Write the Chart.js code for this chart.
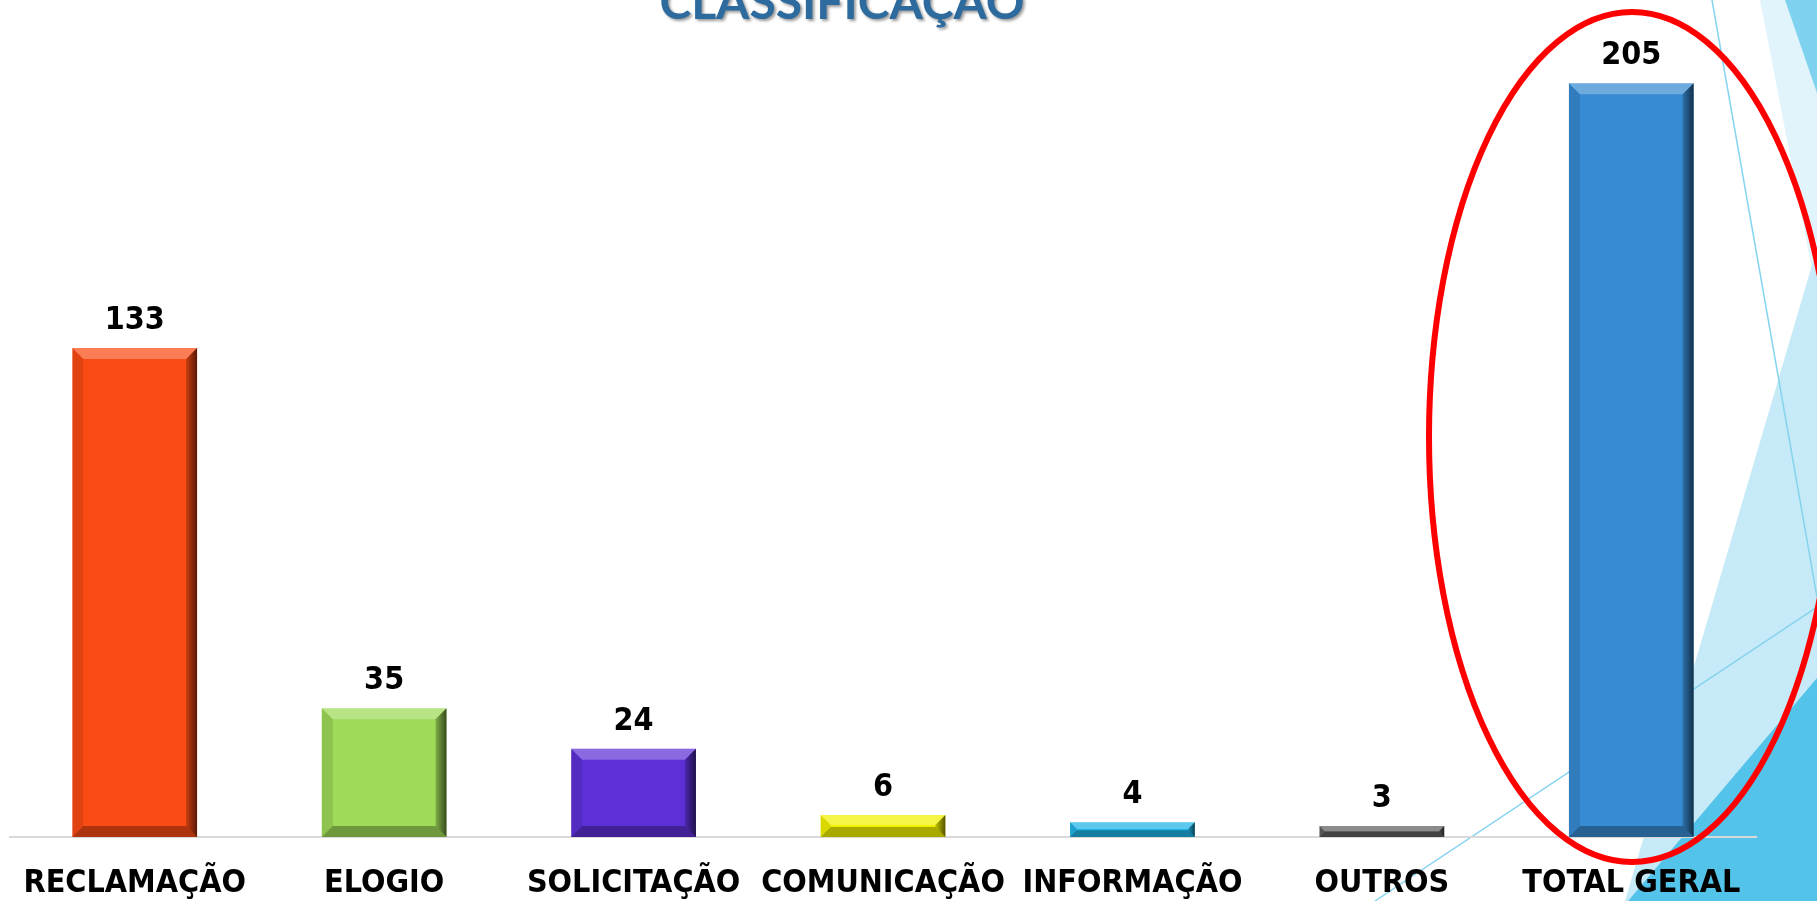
<!DOCTYPE html>
<html>
<head>
<meta charset="utf-8">
<title>Classificação</title>
<script src="https://cdn.jsdelivr.net/npm/chart.js@4.4.1/dist/chart.umd.min.js"></script>
<style>
  html, body { margin: 0; padding: 0; background: #fff; overflow: hidden; }
  #wrap { width: 1817px; height: 901px; position: relative; }
</style>
</head>
<body>
<div id="wrap">
  <canvas id="classChart" width="1817" height="901"></canvas>
</div>
<script>
// data
const categories = ['RECLAMAÇÃO', 'ELOGIO', 'SOLICITAÇÃO', 'COMUNICAÇÃO', 'INFORMAÇÃO', 'OUTROS', 'TOTAL GERAL'];
const totals = [133, 35, 24, 6, 4, 3, 205];
const barColors = ['#fa4b14', '#9fda58', '#5d30d6', '#f2f200', '#1fb3e6', '#5f5f5f', '#378bd2'];
const chartTitle = 'CLASSIFICAÇÃO';

const labelFont = '"DejaVu Sans Condensed", "DejaVu Sans", sans-serif';

// slide background: facet shapes on the right
const backgroundPlugin = {
  id: 'slideBg',
  beforeDraw(chart) {
    const { ctx, width, height } = chart;
    ctx.save();
    ctx.fillStyle = '#ffffff';
    ctx.fillRect(0, 0, width, height);

    ctx.fillStyle = '#e1f4fb';
    ctx.beginPath();
    ctx.moveTo(1760, 0); ctx.lineTo(width, 0); ctx.lineTo(width, 295);
    ctx.closePath(); ctx.fill();

    ctx.fillStyle = '#7fd2ef';
    ctx.beginPath();
    ctx.moveTo(1785, 0); ctx.lineTo(width, 0); ctx.lineTo(width, 93);
    ctx.closePath(); ctx.fill();

    ctx.fillStyle = '#c6eaf7';
    ctx.beginPath();
    ctx.moveTo(width, 248); ctx.lineTo(width, height); ctx.lineTo(1625, height);
    ctx.closePath(); ctx.fill();

    ctx.fillStyle = '#53c3ea';
    ctx.beginPath();
    ctx.moveTo(width, 678); ctx.lineTo(width, height); ctx.lineTo(1628, height);
    ctx.closePath(); ctx.fill();

    ctx.strokeStyle = '#84d3ef';
    ctx.lineWidth = 1.5;
    ctx.beginPath();
    ctx.moveTo(1712, 0); ctx.lineTo(width, 597);
    ctx.moveTo(1375, height); ctx.lineTo(width, 607);
    ctx.stroke();
    ctx.restore();
  }
};

// bevel look on the bars
const bevelPlugin = {
  id: 'bevel',
  afterDatasetsDraw(chart) {
    const { ctx } = chart;
    const meta = chart.getDatasetMeta(0);
    ctx.save();
    meta.data.forEach(bar => {
      const l = bar.x - bar.width / 2, r = bar.x + bar.width / 2;
      const t = bar.y, b = bar.base;
      const h = b - t;
      const s = Math.min(11, h / 2.2);

      ctx.fillStyle = 'rgba(255,255,255,0.28)';
      ctx.beginPath();
      ctx.moveTo(l, t); ctx.lineTo(r, t); ctx.lineTo(r - s, t + s); ctx.lineTo(l + s, t + s);
      ctx.closePath(); ctx.fill();

      const g = ctx.createLinearGradient(r - s, 0, r, 0);
      g.addColorStop(0, 'rgba(0,0,0,0.2)');
      g.addColorStop(1, 'rgba(0,0,0,0.65)');
      ctx.fillStyle = g;
      ctx.beginPath();
      ctx.moveTo(r, t); ctx.lineTo(r, b); ctx.lineTo(r - s, b - s); ctx.lineTo(r - s, t + s);
      ctx.closePath(); ctx.fill();

      ctx.fillStyle = 'rgba(0,0,0,0.3)';
      ctx.beginPath();
      ctx.moveTo(l, b); ctx.lineTo(r, b); ctx.lineTo(r - s, b - s); ctx.lineTo(l + s, b - s);
      ctx.closePath(); ctx.fill();

      ctx.fillStyle = 'rgba(0,0,0,0.1)';
      ctx.beginPath();
      ctx.moveTo(l, t); ctx.lineTo(l + s, t + s); ctx.lineTo(l + s, b - s); ctx.lineTo(l, b);
      ctx.closePath(); ctx.fill();
    });
    ctx.restore();
  }
};

// numbers above bars
const valueLabelPlugin = {
  id: 'valueLabels',
  afterDatasetsDraw(chart) {
    const { ctx } = chart;
    const meta = chart.getDatasetMeta(0);
    ctx.save();
    ctx.font = 'bold 32px ' + labelFont;
    ctx.fillStyle = '#000';
    ctx.textAlign = 'center';
    ctx.textBaseline = 'alphabetic';
    meta.data.forEach((bar, i) => {
      ctx.fillText(totals[i], bar.x, bar.y - 19);
    });
    ctx.restore();
  }
};

// title is cut off at the top of the slide, plus the red highlight ring
const overlayPlugin = {
  id: 'overlay',
  afterDraw(chart) {
    const { ctx } = chart;
    ctx.save();
    ctx.font = 'bold 48px Lato, "Open Sans", sans-serif';
    ctx.textAlign = 'center';
    ctx.textBaseline = 'alphabetic';
    ctx.shadowColor = 'rgba(0,0,0,0.4)';
    ctx.shadowOffsetX = 2;
    ctx.shadowOffsetY = 2;
    ctx.shadowBlur = 3;
    ctx.fillStyle = '#2d6a9e';
    ctx.fillText(chartTitle, 842, 19);
    ctx.restore();

    ctx.save();
    ctx.strokeStyle = '#ff0000';
    ctx.lineWidth = 6;
    ctx.beginPath();
    ctx.ellipse(1632, 437, 203, 425, 0, 0, Math.PI * 2);
    ctx.stroke();
    ctx.restore();
  }
};

new Chart(document.getElementById('classChart'), {
  type: 'bar',
  data: {
    labels: categories,
    datasets: [{
      data: totals,
      backgroundColor: barColors,
      borderWidth: 0,
      barPercentage: 0.5,
      categoryPercentage: 1.0
    }]
  },
  options: {
    responsive: false,
    animation: false,
    layout: { padding: { top: 28, left: 10, right: 61, bottom: 0 } },
    plugins: {
      legend: { display: false },
      tooltip: { enabled: false },
      title: { display: false }
    },
    scales: {
      x: {
        grid: { display: false, drawTicks: false },
        border: { display: true, color: '#d9d9d9', width: 2 },
        ticks: {
          color: '#000',
          padding: 27,
          maxRotation: 0,
          autoSkip: false,
          font: { family: labelFont, size: 32, weight: 'bold' }
        },
        afterFit(scale) {
          scale.height = 64;
          scale.paddingLeft = 0;
          scale.paddingRight = 0;
        }
      },
      y: {
        display: false,
        min: 0,
        max: 220
      }
    }
  },
  plugins: [backgroundPlugin, bevelPlugin, valueLabelPlugin, overlayPlugin]
});
</script>
</body>
</html>
